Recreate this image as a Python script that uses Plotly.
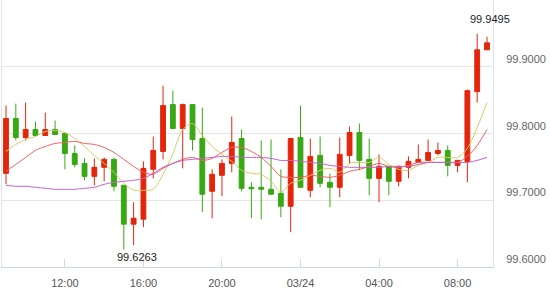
import pandas as pd
import plotly.graph_objects as go

# ---- data (30-minute candles, 03/23 09:00 -> 03/24 09:30) ----
times = pd.date_range("2024-03-23 09:00", periods=50, freq="30min")

open_ = [99.7403, 99.8224, 99.7940, 99.8060, 99.7970, 99.8060, 99.8000, 99.7701, 99.7552, 99.7358,
         99.7493, 99.7612, 99.7224, 99.6642, 99.6716, 99.7463, 99.7731, 99.8433, 99.8075, 99.8433,
         99.7925, 99.7134, 99.7373, 99.7552, 99.7925, 99.7194, 99.7194, 99.7164, 99.7104, 99.6910,
         99.7940, 99.7149, 99.7672, 99.7269, 99.7194, 99.7672, 99.8015, 99.7612, 99.7328, 99.7507,
         99.7284, 99.7493, 99.7567, 99.7597, 99.7701, 99.7746, 99.7522, 99.7582, 99.8627, 99.9254]
high = [99.8418, 99.8448, 99.8463, 99.8179, 99.8313, 99.8194, 99.8015, 99.7821, 99.7627, 99.7627,
        99.7642, 99.7642, 99.7230, 99.6970, 99.7582, 99.7955, 99.8716, 99.8642, 99.8448, 99.8440,
        99.8388, 99.7463, 99.7612, 99.8254, 99.8060, 99.7269, 99.7896, 99.7910, 99.7463, 99.7930,
        99.8418, 99.7925, 99.7955, 99.7400, 99.7940, 99.8104, 99.8149, 99.7925, 99.7687, 99.7510,
        99.7522, 99.7657, 99.7836, 99.7910, 99.7866, 99.7821, 99.7605, 99.8657, 99.9495, 99.9448]
low = [99.7239, 99.7896, 99.7896, 99.7955, 99.7963, 99.7978, 99.7463, 99.7493, 99.7299, 99.7224,
       99.7284, 99.7134, 99.6263, 99.6328, 99.6597, 99.7328, 99.7612, 99.8075, 99.7478, 99.7746,
       99.6821, 99.6731, 99.7060, 99.7418, 99.7134, 99.6731, 99.6716, 99.7085, 99.6746, 99.6522,
       99.7190, 99.7045, 99.7194, 99.6896, 99.7045, 99.7552, 99.7448, 99.7075, 99.6970, 99.7075,
       99.7209, 99.7328, 99.7565, 99.7595, 99.7672, 99.7358, 99.7418, 99.7269, 99.8463, 99.9250]
close = [99.8224, 99.7940, 99.8060, 99.7970, 99.8060, 99.7985, 99.7701, 99.7537, 99.7358, 99.7493,
         99.7612, 99.7209, 99.6642, 99.6731, 99.7478, 99.7746, 99.8418, 99.8075, 99.8433, 99.7910,
         99.7090, 99.7388, 99.7552, 99.7866, 99.7179, 99.7172, 99.7164, 99.7090, 99.6910, 99.7925,
         99.7194, 99.7657, 99.7254, 99.7194, 99.7687, 99.8015, 99.7597, 99.7328, 99.7507, 99.7284,
         99.7507, 99.7582, 99.7612, 99.7716, 99.7746, 99.7522, 99.7597, 99.8642, 99.9254, 99.9358]

ma_yellow = [99.7731, 99.7836, 99.7910, 99.7955, 99.8030, 99.8045, 99.8015, 99.7925, 99.7806, 99.7672,
             99.7552, 99.7418, 99.7254, 99.7149, 99.7149, 99.7164, 99.7388, 99.7701, 99.8060, 99.8149,
             99.7970, 99.7806, 99.7687, 99.7582, 99.7448, 99.7403, 99.7388, 99.7284, 99.7119, 99.7254,
             99.7299, 99.7373, 99.7448, 99.7478, 99.7418, 99.7552, 99.7567, 99.7567, 99.7642, 99.7537,
             99.7463, 99.7448, 99.7522, 99.7567, 99.7642, 99.7642, 99.7642, 99.7776, 99.8090, 99.8463]
ma_red = [99.7433, 99.7537, 99.7642, 99.7746, 99.7806, 99.7851, 99.7866, 99.7881, 99.7851, 99.7836,
          99.7791, 99.7716, 99.7612, 99.7507, 99.7418, 99.7388, 99.7478, 99.7552, 99.7612, 99.7642,
          99.7597, 99.7627, 99.7716, 99.7791, 99.7791, 99.7731, 99.7642, 99.7507, 99.7358, 99.7343,
          99.7343, 99.7373, 99.7358, 99.7343, 99.7373, 99.7433, 99.7463, 99.7507, 99.7552, 99.7507,
          99.7493, 99.7522, 99.7567, 99.7567, 99.7567, 99.7567, 99.7567, 99.7657, 99.7821, 99.8060]
ma_purple = [99.7224, 99.7209, 99.7209, 99.7194, 99.7179, 99.7164, 99.7164, 99.7164, 99.7179, 99.7194,
             99.7239, 99.7269, 99.7284, 99.7299, 99.7328, 99.7403, 99.7493, 99.7552, 99.7597, 99.7612,
             99.7627, 99.7642, 99.7657, 99.7657, 99.7642, 99.7642, 99.7642, 99.7627, 99.7597, 99.7597,
             99.7582, 99.7567, 99.7552, 99.7522, 99.7507, 99.7493, 99.7493, 99.7493, 99.7493, 99.7507,
             99.7507, 99.7507, 99.7537, 99.7567, 99.7567, 99.7567, 99.7567, 99.7567, 99.7597, 99.7642]

tick_vals = ["2024-03-23 12:00", "2024-03-23 16:00", "2024-03-23 20:00",
             "2024-03-24 00:00", "2024-03-24 04:00", "2024-03-24 08:00"]
tick_text = ["12:00", "16:00", "20:00", "03/24", "04:00", "08:00"]
y_ticks = [99.6, 99.7, 99.8, 99.9]

RED = "#e3260b"
GREEN = "#38a814"

fig = go.Figure()
fig.add_trace(go.Candlestick(
    x=times, open=open_, high=high, low=low, close=close,
    increasing=dict(line=dict(color=RED, width=1), fillcolor=RED),
    decreasing=dict(line=dict(color=GREEN, width=1), fillcolor=GREEN),
    showlegend=False, hoverinfo="skip",
))
for vals, col in [(ma_yellow, "#d3cc68"), (ma_red, "#f26060"), (ma_purple, "#c463c8")]:
    fig.add_trace(go.Scatter(x=times, y=vals, mode="lines",
                             line=dict(color=col, width=1, shape="spline", smoothing=0.8),
                             showlegend=False, hoverinfo="skip"))

# max / min labels
imax = max(range(len(high)), key=lambda i: high[i])
imin = min(range(len(low)), key=lambda i: low[i])
fig.add_annotation(x=times[imax], y=high[imax], text=f"{high[imax]:.4f}", showarrow=False,
                   xanchor="left", yanchor="middle", xshift=-9, yshift=15,
                   font=dict(family="Liberation Sans", size=11, color="#222222"))
fig.add_annotation(x=times[imin], y=low[imin], text=f"{low[imin]:.4f}", showarrow=False,
                   xanchor="left", yanchor="middle", xshift=-9, yshift=-8,
                   font=dict(family="Liberation Sans", size=11, color="#222222"))

fig.update_layout(
    width=550, height=291,
    margin=dict(l=2, r=57, t=0, b=24),
    paper_bgcolor="white", plot_bgcolor="white",
    boxgap=0.3,
    font=dict(family="Liberation Sans", size=11, color="#666666"),
    xaxis=dict(
        range=["2024-03-23 08:47:46", "2024-03-24 09:48:20"],
        rangeslider=dict(visible=False),
        tickmode="array", tickvals=tick_vals, ticktext=tick_text,
        ticks="inside", ticklen=8, tickcolor="#d3dbe6",
        showgrid=False, zeroline=False,
        showline=True, linecolor="#ccd5e1", linewidth=1,
        ticklabelstandoff=6,
        tickfont=dict(size=11, color="#555555"),
    ),
    yaxis=dict(
        side="right", range=[99.6, 100.0],
        tickmode="array", tickvals=y_ticks, tickformat=".4f",
        ticklabelposition="outside top",
        showgrid=True, gridcolor="#e6e6e6", gridwidth=1,
        zeroline=False, ticks="",
        showline=True, linecolor="#dde3ec", linewidth=1, mirror=True,
        ticklabelstandoff=10,
        tickfont=dict(size=11, color="#666666"),
    ),
)

fig.write_html("out.html")
